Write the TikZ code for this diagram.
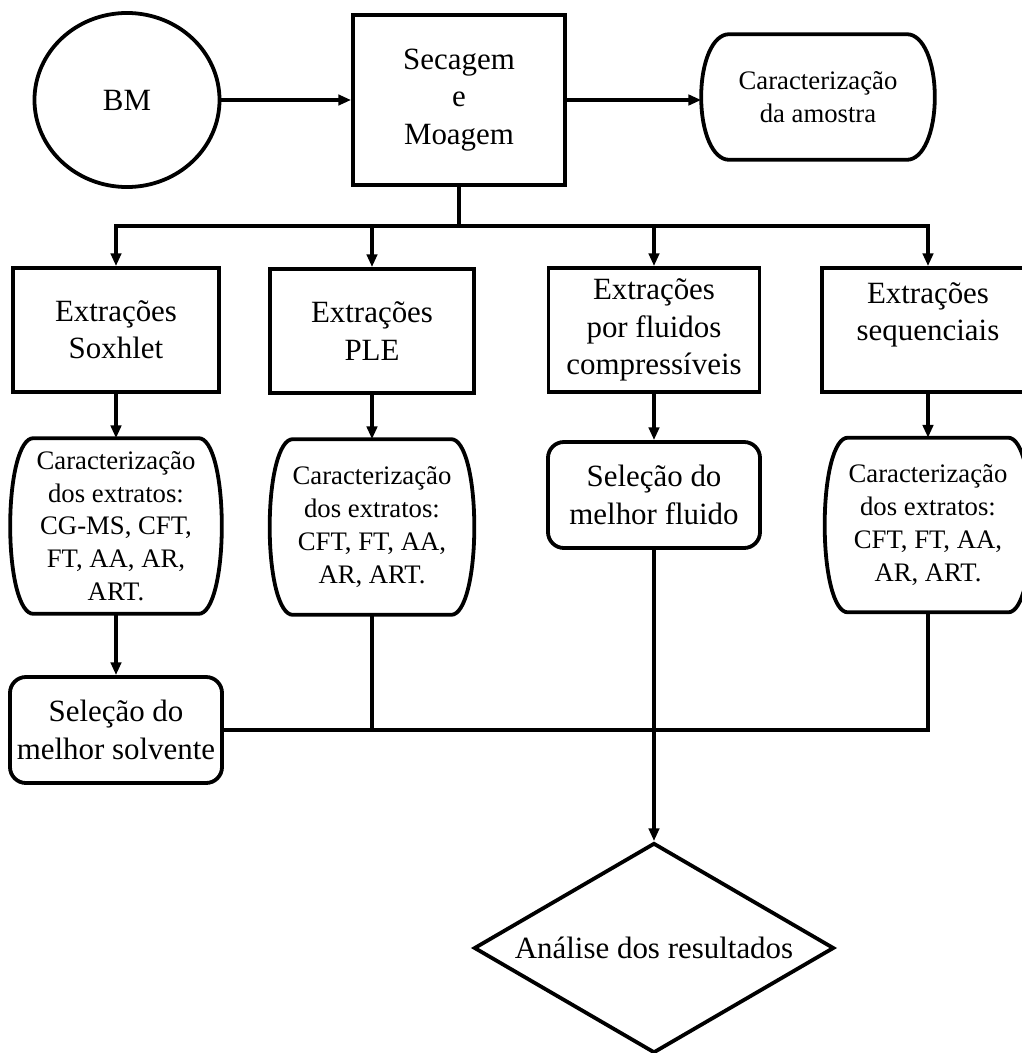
\documentclass[tikz,border=0pt]{standalone}
\usepackage{fontspec}
\setmainfont{Liberation Serif}
\usetikzlibrary{arrows.meta,positioning,shapes.geometric,calc}

\newcommand{\bigtxt}{\fontsize{22}{26.5}\selectfont}
\newcommand{\smalltxt}{\fontsize{19}{23.3}\selectfont}

% outline with bulging sides around a node (#2 = inset of the flat edges)
\newcommand{\barrel}[2]{%
  \coordinate (#1-a) at ($(#1.north west)+(#2,0)$);
  \coordinate (#1-b) at ($(#1.north east)+(-#2,0)$);
  \coordinate (#1-c) at ($(#1.south east)+(-#2,0)$);
  \coordinate (#1-d) at ($(#1.south west)+(#2,0)$);
  \draw[conn, line join=round] (#1-a) -- (#1-b)
    .. controls ($(#1-b)!0.6!(#1.north east)$) and ($(#1.east)!0.55!(#1.north east)$) .. (#1.east)
    .. controls ($(#1.east)!0.55!(#1.south east)$) and ($(#1-c)!0.6!(#1.south east)$) .. (#1-c)
    -- (#1-d)
    .. controls ($(#1-d)!0.6!(#1.south west)$) and ($(#1.west)!0.55!(#1.south west)$) .. (#1.west)
    .. controls ($(#1.west)!0.55!(#1.north west)$) and ($(#1-a)!0.6!(#1.north west)$) .. (#1-a) -- cycle;}

\begin{document}
\begin{tikzpicture}[
    x=0.025cm, y=-0.025cm,
    conn/.style={line width=2.7pt},
    arrow/.style={conn, -{Triangle[length=0.32cm, width=0.26cm]}},
    sqbox/.style={rectangle, draw, line width=2.7pt, align=center, inner sep=0pt, font=\bigtxt},
    roundbox/.style={sqbox, rounded corners=0.4cm},
    barrelbox/.style={rectangle, align=center, inner sep=0pt, font=\smalltxt},
    oval/.style={ellipse, draw, line width=2.7pt, inner sep=0pt, minimum width=4.625cm, minimum height=4.35cm, font=\bigtxt},
    decision/.style={diamond, draw, line width=2.7pt, aspect=1.71, inner sep=0pt, minimum width=9cm, minimum height=5.25cm, font=\bigtxt}
]
    \useasboundingbox (0,0) rectangle (1021,1053);

    % Top row
    \node[oval] (bm) at (127,100) {BM};
    \node[sqbox, minimum width=5.3cm, minimum height=4.25cm] (sec) at (459,100) {Secagem\\e\\Moagem};
    \node[barrelbox, minimum width=5.825cm, minimum height=3.125cm] (amostra) at (818,97) {Caracterização\\da amostra};
    \barrel{amostra}{28}

    % Extraction row
    \node[sqbox, minimum width=5.15cm, minimum height=3.1cm] (soxhlet) at (116,330) {Extrações\\Soxhlet};
    \node[sqbox, minimum width=5.1cm, minimum height=3.1cm] (ple) at (372,331) {Extrações\\PLE};
    \node[sqbox, minimum width=5.275cm, minimum height=3.1cm] (fluidos) at (654,330) {Extrações\\por fluidos\\compressíveis};
    \node[sqbox, minimum width=5.3cm, minimum height=3.1cm] (seq) at (928,330) {Extrações\\sequenciais\\~};

    % Characterisation row
    \node[barrelbox, minimum width=5.275cm, minimum height=4.375cm] (caract1) at (116,526) {Caracterização\\dos extratos:\\CG-MS, CFT,\\FT, AA, AR,\\ART.};
    \barrel{caract1}{23}
    \node[barrelbox, minimum width=5.1cm, minimum height=4.375cm] (caract2) at (372,527) {Caracterização\\dos extratos:\\CFT, FT, AA,\\AR, ART.};
    \barrel{caract2}{23}
    \node[roundbox, minimum width=5.3cm, minimum height=2.65cm] (melhorfluido) at (654,495) {Seleção do\\melhor fluido};
    \node[barrelbox, minimum width=5.15cm, minimum height=4.35cm] (caract4) at (928,525) {Caracterização\\dos extratos:\\CFT, FT, AA,\\AR, ART.};
    \barrel{caract4}{23}

    % Bottom
    \node[roundbox, minimum width=5.3cm, minimum height=2.65cm] (solvente) at (116,730) {Seleção do\\melhor solvente};
    \node[decision] (analise) at (654,948) {Análise dos resultados};

    % Arrows top
    \draw[arrow] (bm) -- (sec);
    \draw[arrow] (sec.east) -- (sec.east -| amostra.west);

    % Split into the four extractions
    \coordinate (split) at (459,226);
    \draw[conn] (sec.south) -- (split);
    \foreach \n in {soxhlet,ple,fluidos,seq}
        \draw[arrow] (split) -| (\n.north);

    % Vertical steps
    \foreach \a/\b in {soxhlet/caract1, ple/caract2, fluidos/melhorfluido, seq/caract4, caract1/solvente}
        \draw[arrow] (\a.south) -- (\a.south |- \b.north);

    % Merge to the results
    \draw[conn] (solvente.east) -| (caract4.south);
    \draw[conn] (caract2.south) -- (caract2.south |- solvente.east);
    \draw[arrow] (melhorfluido.south) -- (analise.north);
\end{tikzpicture}
\end{document}
